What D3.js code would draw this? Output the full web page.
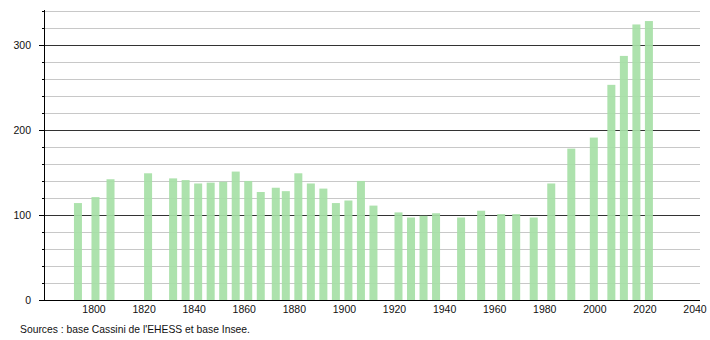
<!DOCTYPE html>
<html>
<head>
<meta charset="utf-8">
<script src="https://cdn.jsdelivr.net/npm/d3@7"></script>
<style>
  html, body { margin: 0; padding: 0; background: #fff; }
  svg { display: block; }
  text { font-family: "Liberation Sans", Arial, sans-serif; fill: #111; }
</style>
</head>
<body>
<svg id="chart" width="710" height="340"></svg>
<script>
const years = [1793, 1800, 1806, 1821, 1831, 1836, 1841, 1846, 1851, 1856, 1861, 1866, 1872, 1876, 1881, 1886, 1891, 1896, 1901, 1906, 1911, 1921, 1926, 1931, 1936, 1946, 1954, 1962, 1968, 1975, 1982, 1990, 1999, 2006, 2011, 2016, 2021];
const population = [114, 121, 142, 149, 143, 141, 137, 138, 139, 151, 140, 127, 132, 128, 149, 137, 131, 114, 117, 140, 111, 103, 97, 99, 102, 97, 105, 101, 101, 97, 137, 178, 191, 253, 287, 324, 328];
const xTickLabels = [1800, 1820, 1840, 1860, 1880, 1900, 1920, 1940, 1960, 1980, 2000, 2020, 2040];
const yMajorTicks = [0, 100, 200, 300];
const yMinorTicks = [20, 40, 60, 80, 120, 140, 160, 180, 220, 240, 260, 280, 320, 340];
const sourceText = "Sources : base Cassini de l'EHESS et base Insee.";

const svg = d3.select("#chart");
const mLeft = 44, mRight = 700, mTop = 10, mBottom = 300;

const x = d3.scaleLinear().domain([1780, 2040]).range([45.4, 696.5]);
const y = d3.scaleLinear().domain([0, 341]).range([mBottom, mTop]);

// minor grid
svg.append("g").selectAll("line").data(yMinorTicks).join("line")
  .attr("x1", mLeft).attr("x2", mRight)
  .attr("y1", d => Math.round(y(d)) + 0.5).attr("y2", d => Math.round(y(d)) + 0.5)
  .attr("stroke", "#c8c8c8").attr("stroke-width", 1);

// major grid
svg.append("g").selectAll("line").data(yMajorTicks.filter(d => d > 0)).join("line")
  .attr("x1", mLeft).attr("x2", mRight)
  .attr("y1", d => Math.round(y(d)) + 0.5).attr("y2", d => Math.round(y(d)) + 0.5)
  .attr("stroke", "#333").attr("stroke-width", 1);

// bars
const barW = 8;
svg.append("g").selectAll("rect").data(years).join("rect")
  .attr("x", (d) => x(d) - barW / 2)
  .attr("width", barW)
  .attr("y", (d, i) => y(population[i]))
  .attr("height", (d, i) => y(0) - y(population[i]))
  .attr("fill", "#a6e0a6")
  .attr("fill-opacity", 0.92);

// y axis line
svg.append("line")
  .attr("x1", mLeft + 0.5).attr("x2", mLeft + 0.5)
  .attr("y1", mTop).attr("y2", mBottom)
  .attr("stroke", "#000").attr("stroke-width", 1);

// x axis line
svg.append("line")
  .attr("x1", mLeft).attr("x2", mRight)
  .attr("y1", mBottom + 0.5).attr("y2", mBottom + 0.5)
  .attr("stroke", "#000").attr("stroke-width", 1);

// y ticks
svg.append("g").selectAll("line").data(yMinorTicks).join("line")
  .attr("x1", mLeft - 2).attr("x2", mLeft)
  .attr("y1", d => Math.round(y(d)) + 0.5).attr("y2", d => Math.round(y(d)) + 0.5)
  .attr("stroke", "#000");
svg.append("g").selectAll("line").data(yMajorTicks).join("line")
  .attr("x1", mLeft - 5).attr("x2", mLeft)
  .attr("y1", d => Math.round(y(d)) + 0.5).attr("y2", d => Math.round(y(d)) + 0.5)
  .attr("stroke", "#000");

// y labels
svg.append("g").selectAll("text").data(yMajorTicks).join("text")
  .attr("x", 31).attr("y", d => y(d))
  .attr("dy", "0.35em")
  .attr("text-anchor", "end")
  .attr("font-size", 10.5)
  .text(d => d);

// x labels
svg.append("g").selectAll("text").data(xTickLabels).join("text")
  .attr("x", d => x(d) - 1.5).attr("y", 309)
  .attr("dy", "0.35em")
  .attr("text-anchor", "middle")
  .attr("font-size", 10.5)
  .text(d => d);

// source
svg.append("text")
  .attr("x", 20).attr("y", 329)
  .attr("dy", "0.35em")
  .attr("font-size", 10.3)
  .attr("textLength", 230)
  .attr("lengthAdjust", "spacingAndGlyphs")
  .text(sourceText);
</script>
</body>
</html>
